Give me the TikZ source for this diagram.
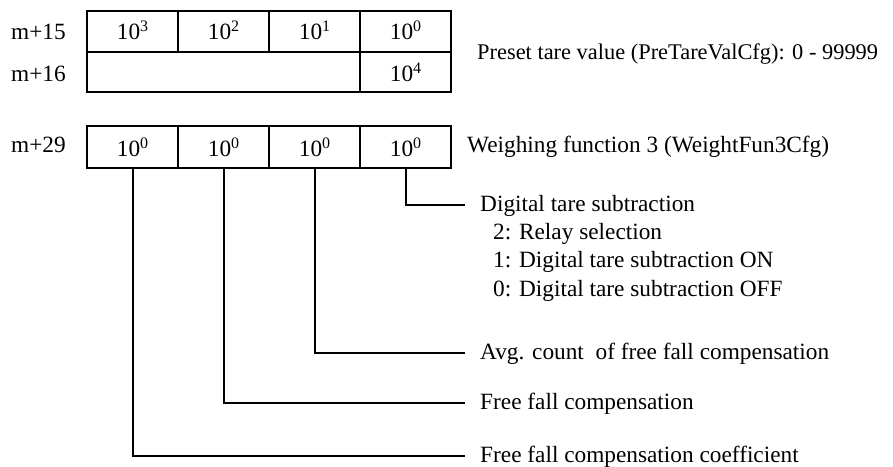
\documentclass[tikz,border=0pt]{standalone}
\usepackage{fontspec}
\setmainfont{Liberation Serif}
\newcommand\pwr[1]{\raisebox{8pt}{\fontsize{16}{16}\selectfont #1}}
\begin{document}
\begin{tikzpicture}[x=1pt,y=1pt,
  cell/.style={draw, line width=2pt, minimum width=91pt, minimum height=41pt, inner sep=0pt,
    text height=20pt, text depth=0pt, font=\fontsize{23.3}{28}\selectfont},
  row1/.style={text height=16pt},
  txt/.style={anchor=base west, inner sep=0pt, font=\fontsize{23.3}{28}\selectfont},
  conn/.style={line width=2pt}]
\useasboundingbox (0,0) rectangle (893,466);
% top table
\node[cell,row1] (a1) at (132.5,434.5) {10\pwr{3}};
\node[cell,row1] (a2) at (223.5,434.5) {10\pwr{2}};
\node[cell,row1] (a3) at (314.5,434.5) {10\pwr{1}};
\node[cell,row1] (a4) at (405.5,434.5) {10\pwr{0}};
\node[cell, minimum width=273pt, minimum height=40pt] (a5) at (223.5,394) {};
\node[cell, minimum height=40pt] (a6) at (405.5,394) {10\pwr{4}};
% bottom table
\node[cell, minimum height=42pt] (b1) at (132.5,319) {10\pwr{0}};
\node[cell, minimum height=42pt] (b2) at (223.5,319) {10\pwr{0}};
\node[cell, minimum height=42pt] (b3) at (314.5,319) {10\pwr{0}};
\node[cell, minimum height=42pt] (b4) at (405.5,319) {10\pwr{0}};
% row labels
\node[txt] (m15) at (11,426) {m+15};
\node[txt] (m16) at (11,384) {m+16};
\node[txt] (m29) at (11,313) {m+29};
% descriptions
\node[txt, font=\fontsize{22.4}{28}\selectfont] (pre) at (477,406) {Preset tare value (PreTareValCfg): 0 - 99999};
\node[txt] (wf) at (467,313) {Weighing function 3 (WeightFun3Cfg)};
\node[txt] (dts) at (480,254) {Digital tare subtraction};
\node[txt] (o2) at (493,226) {2: Relay selection};
\node[txt] (o1) at (493,198) {1: Digital tare subtraction ON};
\node[txt] (o0) at (493,169) {0: Digital tare subtraction OFF};
\node[txt] (avg) at (480,106.5) {Avg. count\ \ of free fall compensation};
\node[txt] (ffc) at (480,56.5) {Free fall compensation};
\node[txt] (coef) at (480,4) {Free fall compensation coefficient};
% connectors
\draw[conn] (b4.south) |- ([xshift=-15pt,yshift=7pt]dts.base west);
\draw[conn] (b3.south) |- ([xshift=-15pt,yshift=6.5pt]avg.base west);
\draw[conn] (b2.south) |- ([xshift=-15pt,yshift=6.5pt]ffc.base west);
\draw[conn] (b1.south) |- ([xshift=-15pt,yshift=6pt]coef.base west);
\end{tikzpicture}
\end{document}
